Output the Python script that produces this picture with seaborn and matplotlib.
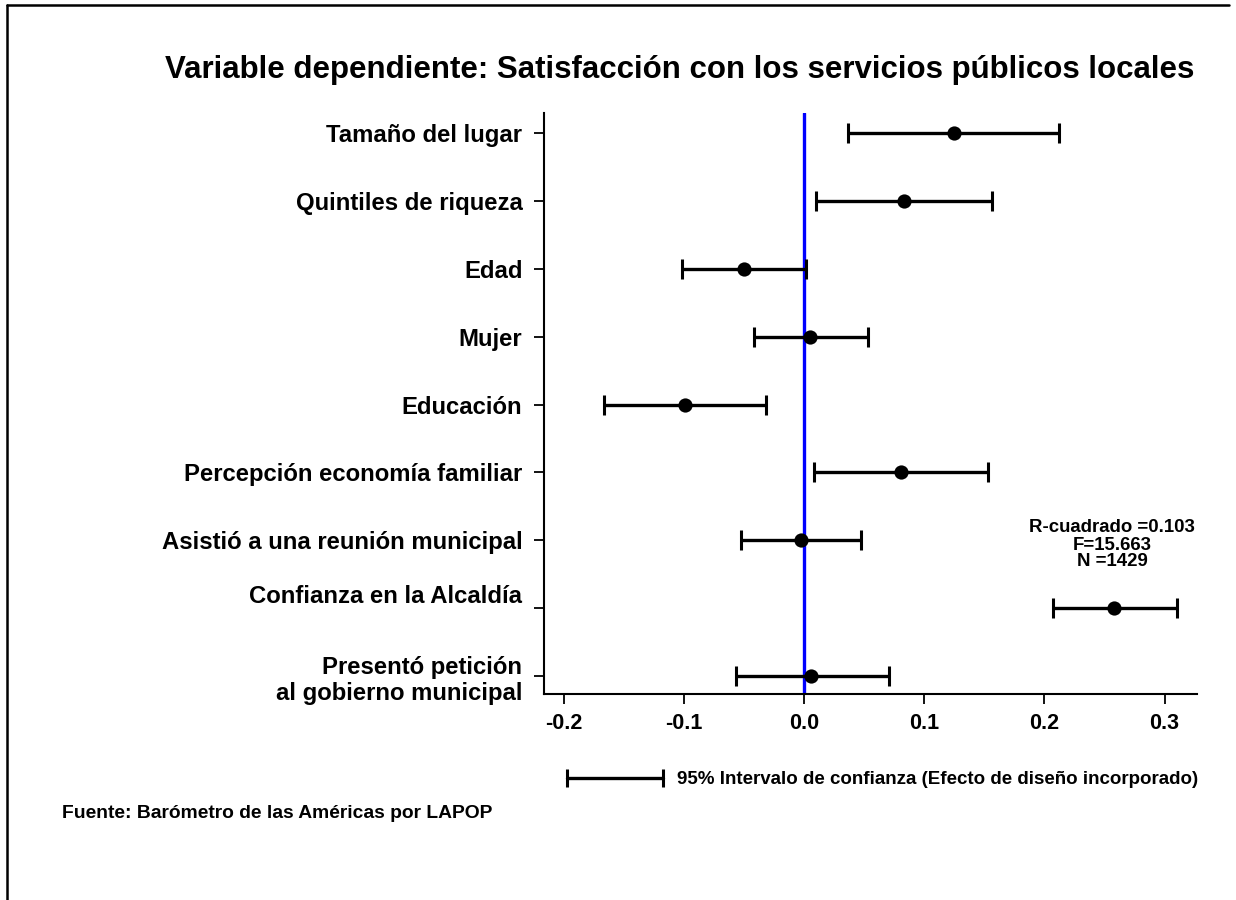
import numpy as np
import pandas as pd
import seaborn as sns
import matplotlib
matplotlib.use("Agg")
import matplotlib.pyplot as plt
from matplotlib.lines import Line2D
from matplotlib.transforms import ScaledTranslation

# ---- data ----
categories = [
    "Tamaño del lugar",
    "Quintiles de riqueza",
    "Edad",
    "Mujer",
    "Educación",
    "Percepción economía familiar",
    "Asistió a una reunión municipal",
    "Confianza en la Alcaldía",
    "Presentó petición\nal gobierno municipal",
]
coef = [0.1245, 0.0830, -0.0501, 0.0051, -0.0992, 0.0804, -0.0025, 0.2576, 0.0058]
ci_low = [0.0361, 0.0101, -0.1017, -0.0415, -0.1667, 0.0083, -0.0523, 0.2071, -0.0570]
ci_high = [0.2118, 0.1562, 0.0014, 0.0534, -0.0317, 0.1533, 0.0473, 0.3102, 0.0703]
x_ticks = [-0.2, -0.1, 0.0, 0.1, 0.2, 0.3]
x_tick_labels = ["-0.2", "-0.1", "0.0", "0.1", "0.2", "0.3"]

title = "Variable dependiente: Satisfacción con los servicios públicos locales"
stats_text = "R-cuadrado =0.103\nF=15.663\nN =1429"
legend_text = "95% Intervalo de confianza (Efecto de diseño incorporado)"
source_text = "Fuente: Barómetro de las Américas por LAPOP"

# ---- style ----
sns.set_theme(style="white")
plt.rcParams["font.family"] = ["Liberation Sans", "DejaVu Sans"]
plt.rcParams["font.weight"] = "bold"
plt.rcParams["text.color"] = "black"
plt.rcParams["xtick.color"] = "black"
plt.rcParams["ytick.color"] = "black"
plt.rcParams["axes.labelcolor"] = "black"

W, H = 1236, 900
fig = plt.figure(figsize=(W / 100, H / 100), dpi=100)
fig.patch.set_facecolor("white")

left, right, top, bottom = 544, 1197, 113, 694
ax = fig.add_axes([left / W, 1 - bottom / H, (right - left) / W, (bottom - top) / H])

df = pd.DataFrame({"var": categories, "coef": coef, "lo": ci_low, "hi": ci_high})
df["ypos"] = np.arange(len(df))

ax.axvline(0, color="#0000ff", lw=2.4, zorder=1)
ax.errorbar(df["coef"], df["ypos"],
            xerr=[df["coef"] - df["lo"], df["hi"] - df["coef"]],
            fmt="none", ecolor="black", elinewidth=2.4, capsize=7, capthick=2.2, zorder=2)
sns.scatterplot(data=df, x="coef", y="ypos", color="black", s=105, linewidth=0,
                zorder=3, ax=ax, legend=False)

ax.set_xlim(-0.2166, 0.327)
ax.set_ylim(8.265, -0.295)
ax.set_xticks(x_ticks)
ax.set_xticklabels(x_tick_labels, fontsize=15.5, fontweight="bold")
ax.set_yticks(df["ypos"])
ax.set_yticklabels(categories, fontsize=17.2, fontweight="bold", linespacing=1.2)
ax.set_xlabel("")
ax.set_ylabel("")

for s in ["top", "right"]:
    ax.spines[s].set_visible(False)
for s in ["left", "bottom"]:
    ax.spines[s].set_color("black")
    ax.spines[s].set_linewidth(1.5)
ax.tick_params(axis="both", which="major", direction="out", length=7.5, width=1.3,
               color="black", left=True, bottom=True)
ax.tick_params(axis="y", pad=8)
ax.tick_params(axis="x", pad=6)

# label of "Confianza" sits above its tick in the reference
lbl = ax.get_yticklabels()[7]
lbl.set_transform(lbl.get_transform() + ScaledTranslation(0, 14 / 100, fig.dpi_scale_trans))

# ---- texts ----
fig.text(680 / W, 1 - 70 / H, title, ha="center", va="center", fontsize=22.5, fontweight="bold")
fig.text(1112 / W, 1 - 545 / H, stats_text, ha="center", va="center", fontsize=13.4,
         fontweight="bold", linespacing=1.0)
fig.text(677 / W, 1 - 780 / H, legend_text, ha="left", va="center", fontsize=13.5, fontweight="bold")
fig.text(62 / W, 1 - 813 / H, source_text, ha="left", va="center", fontsize=13.9, fontweight="bold")

# legend sample (CI bar)
fig.add_artist(Line2D([567 / W, 663 / W], [1 - 778 / H] * 2, transform=fig.transFigure,
                      color="black", lw=2.4, marker="|", markersize=13, markeredgewidth=2.2))

# frame lines
fig.add_artist(Line2D([7 / W, 7 / W], [0, 1 - 5 / H], transform=fig.transFigure, color="black", lw=1.8))
fig.add_artist(Line2D([7 / W, 1229 / W], [1 - 5 / H] * 2, transform=fig.transFigure, color="black", lw=1.8))

fig.savefig("out.png", dpi=100, facecolor="white")
